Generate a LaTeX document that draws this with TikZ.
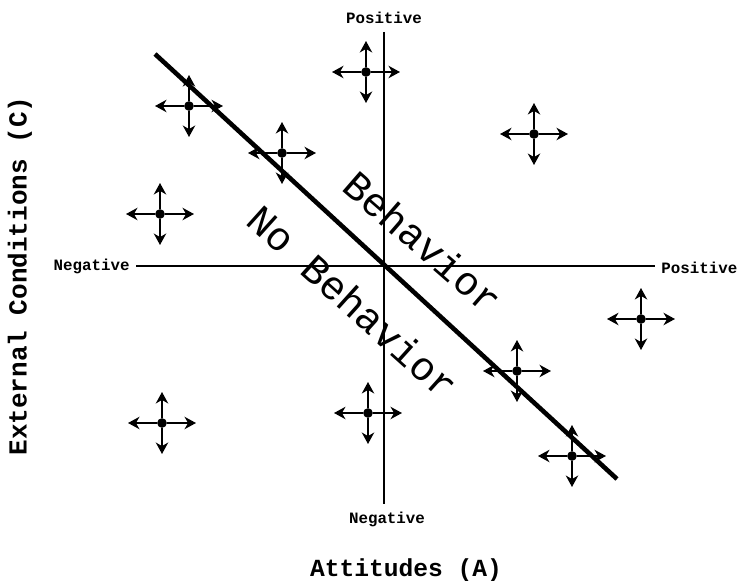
\documentclass[tikz,border=0pt]{standalone}
\usepackage{fontspec}
\setmonofont{Liberation Mono}
\usetikzlibrary{arrows.meta}

\begin{document}
\begin{tikzpicture}[x=0.02cm, y=-0.02cm,
	axlabel/.style={font=\ttfamily\bfseries\fontsize{9}{9}\selectfont, inner sep=0pt},
	title/.style={font=\ttfamily\bfseries\fontsize{14}{14}\selectfont, inner sep=0pt},
	region/.style={font=\ttfamily\fontsize{23}{23}\selectfont, inner sep=0pt},
	dot/.style={circle, fill, inner sep=0pt, minimum size=5.5pt},
	arm/.style={line width=1.5pt, -{Stealth[length=6.5pt, width=7pt, inset=2pt]}}]
	\useasboundingbox (0,0) rectangle (737,581);

	\coordinate (yt) at (384,32);
	\coordinate (yb) at (384,504);
	\coordinate (xl) at (136,266);
	\coordinate (xr) at (655,266);
	\coordinate (dl) at (155,54);
	\coordinate (dr) at (617,479);

	\node[axlabel] (ypos) at (384,18)  {Positive};
	\node[axlabel] (yneg) at (387,519) {Negative};
	\node[axlabel, anchor=east] (xneg) at (130,266) {Negative};
	\node[axlabel, anchor=west] (xpos) at (661,268) {Positive};

	\node[title] (att) at (406,570) {Attitudes (A)};
	\node[title, rotate=90, font=\ttfamily\bfseries\fontsize{14.8}{14.8}\selectfont] (ext) at (20,276) {External Conditions (C)};

	\draw[line width=1pt] (yt) -- (yb);
	\draw[line width=1pt] (xl) -- (xr);
	\draw[line width=2.6pt] (dl) -- (dr);

	\node[region, rotate=-41] (beh) at (423,242) {Behavior};
	\node[region, rotate=-42] (nobeh) at (353,302) {No Behavior};

	\foreach \i/\p in {1/{(366,72)}, 2/{(189,106)}, 3/{(282,153)}, 4/{(534,134)},
		5/{(160,214)}, 6/{(641,319)}, 7/{(517,371)}, 8/{(368,413)},
		9/{(162,423)}, 10/{(572,456)}} {
		\node[dot] (m\i) at \p {};
		\draw[arm] (m\i) -- ++(0,-31);
		\draw[arm] (m\i) -- ++(0,31);
		\draw[arm] (m\i) -- ++(-34,0);
		\draw[arm] (m\i) -- ++(34,0);
	}
\end{tikzpicture}
\end{document}
